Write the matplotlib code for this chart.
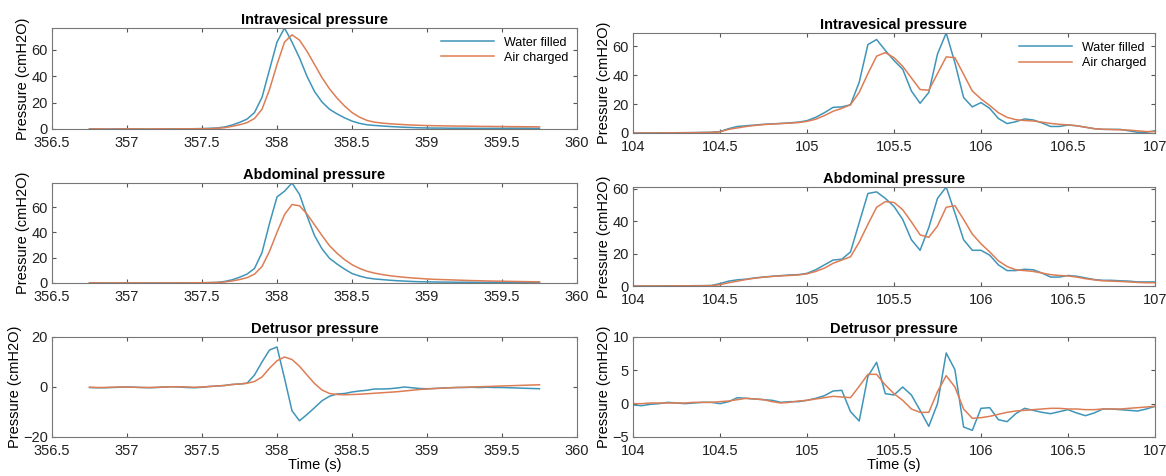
import numpy as np
import matplotlib.pyplot as plt

plt.rcParams['font.family'] = ['Liberation Sans', 'DejaVu Sans']

# sampling grid (20 Hz)
n_pts = 61
dt = 0.05
t0_left = 356.75
t0_right = 104.0

# left column (water filled vs air charged, run 1)
ves_water_l = [0.1, 0.0, -0.1, 0.0, 0.1, 0.2, 0.1, 0.0, -0.1, 0.0, 0.1, 0.1, 0.0, 0.1, 0.2, 0.3, 0.5,
               0.8, 1.5, 3.0, 5.0, 7.5, 12.5, 24.0, 45.0, 66.0, 76.7, 66.0, 54.0, 40.0, 28.5, 20.5,
               15.0, 11.5, 8.5, 6.0, 4.3, 3.2, 2.7, 2.3, 1.9, 1.6, 1.3, 1.1, 0.9, 0.8,
               0.7, 0.7, 0.6, 0.6, 0.6, 0.5, 0.5, 0.5, 0.5, 0.5, 0.6, 0.6, 0.6, 0.5, 0.5]
ves_air_l = [0.0, 0.1, 0.0, -0.1, 0.0, 0.1, 0.1, 0.0, 0.0, 0.1, 0.1, 0.0, 0.1, 0.1, 0.2, 0.2, 0.3,
             0.5, 1.0, 2.0, 3.2, 4.8, 8.0, 15.0, 30.0, 49.0, 66.0, 71.5, 67.5, 59.0, 49.0, 39.0,
             30.5, 23.5, 17.5, 12.5, 9.0, 6.5, 5.2, 4.5, 4.0, 3.6, 3.3, 3.0, 2.8, 2.6,
             2.5, 2.4, 2.3, 2.2, 2.2, 2.1, 2.0, 2.0, 1.9, 1.9, 1.8, 1.8, 1.7, 1.7, 1.6]
abd_water_l = [0.2, 0.1, 0.1, 0.0, 0.1, 0.1, 0.0, 0.0, 0.1, 0.0, 0.0, 0.1, 0.1, 0.1, 0.2, 0.2, 0.3,
               0.5, 1.2, 2.5, 4.5, 7.0, 11.5, 24.0, 47.0, 68.0, 72.5, 79.0, 70.0, 53.0, 37.5, 27.0,
               19.5, 15.0, 11.0, 7.5, 5.5, 4.0, 3.2, 2.7, 2.2, 1.8, 1.5, 1.2, 1.0, 0.9,
               0.8, 0.7, 0.7, 0.6, 0.6, 0.6, 0.5, 0.5, 0.5, 0.5, 0.5, 0.5, 0.5, 0.5, 0.5]
abd_air_l = [0.1, 0.1, 0.0, 0.0, 0.1, 0.1, 0.1, 0.0, 0.0, 0.0, 0.1, 0.1, 0.1, 0.1, 0.2, 0.2, 0.3,
             0.4, 0.8, 1.6, 2.7, 4.2, 7.0, 13.0, 25.0, 40.0, 54.0, 62.0, 61.0, 54.5, 46.0, 37.5,
             29.5, 23.5, 18.5, 14.5, 11.5, 9.3, 7.8, 6.7, 5.8, 5.1, 4.5, 4.0, 3.6, 3.2,
             2.9, 2.7, 2.5, 2.3, 2.1, 1.9, 1.8, 1.6, 1.5, 1.4, 1.3, 1.2, 1.1, 1.0, 0.9]
det_water_l = [-0.2, -0.3, -0.3, -0.2, -0.1, 0.0, -0.1, -0.2, -0.3, -0.2, 0.0, 0.1, 0.0, -0.2, -0.3, -0.1, 0.2,
               0.4, 0.6, 1.0, 1.2, 1.5, 4.8, 10.0, 14.8, 16.0, 3.5, -9.5, -13.5, -11.0, -8.3, -5.5,
               -3.7, -2.8, -2.6, -2.0, -1.6, -1.3, -0.8, -0.8, -0.7, -0.4, 0.0, -0.3, -0.6, -0.7,
               -0.6, -0.4, -0.3, -0.2, -0.2, -0.1, -0.2, -0.1, -0.2, -0.2, -0.3, -0.4, -0.5, -0.6, -0.7]
det_air_l = [-0.1, -0.2, -0.2, -0.1, 0.0, 0.0, -0.1, -0.2, -0.2, -0.1, 0.0, 0.1, 0.1, 0.0, -0.1, 0.0, 0.2,
             0.4, 0.6, 1.0, 1.2, 1.5, 2.2, 4.0, 7.5, 10.5, 12.0, 11.0, 8.3, 4.8, 1.4, -1.2,
             -2.6, -3.0, -3.1, -3.0, -2.9, -2.7, -2.5, -2.3, -2.1, -1.9, -1.6, -1.3, -1.0, -0.8,
             -0.6, -0.5, -0.3, -0.2, -0.1, 0.0, 0.1, 0.2, 0.3, 0.4, 0.5, 0.6, 0.7, 0.8, 0.9]

# right column (run 2)
ves_water_r = [0.0, 0.0, 0.0, 0.1, 0.1, 0.2, 0.2, 0.3, 0.4, 0.5,
               1.0, 3.0, 4.5, 5.0, 5.5, 6.0, 6.3, 6.6, 7.0, 7.5,
               8.5, 10.8, 14.0, 17.7, 18.0, 19.5, 35.0, 61.0, 64.5, 57.0,
               50.0, 44.0, 29.0, 20.5, 28.0, 54.5, 69.0, 48.5, 24.5, 18.0,
               21.0, 17.0, 10.0, 6.5, 7.8, 9.7, 9.0, 7.0, 4.5, 4.5,
               5.5, 5.0, 4.0, 3.0, 2.5, 2.5, 2.5, 1.5, 0.5, 0.5, 1.5]
ves_air_r = [0.0, 0.0, 0.0, 0.0, 0.1, 0.1, 0.2, 0.2, 0.3, 0.4,
             0.8, 2.5, 3.5, 4.5, 5.2, 5.8, 6.2, 6.5, 6.8, 7.2,
             8.0, 9.5, 12.0, 15.0, 17.0, 19.5, 28.0, 41.0, 53.0, 55.5,
             52.0, 46.0, 38.0, 30.0, 29.5, 41.0, 52.5, 52.0, 40.5, 29.0,
             23.5, 19.0, 14.0, 10.8, 9.2, 8.6, 8.3, 7.5, 6.6, 6.0,
             5.6, 5.0, 4.0, 3.0, 2.6, 2.4, 2.2, 2.0, 1.5, 1.0, 1.0]
abd_water_r = [0.0, 0.0, 0.0, 0.0, 0.1, 0.1, 0.1, 0.2, 0.2, 0.3,
               1.5, 3.0, 3.8, 4.2, 5.0, 5.5, 6.0, 6.4, 6.8, 7.0,
               7.8, 10.0, 13.0, 16.0, 16.5, 21.0, 39.0, 57.0, 58.0, 54.0,
               49.0, 41.0, 28.5, 22.0, 36.0, 54.0, 61.0, 45.0, 28.5, 22.0,
               22.0, 19.0, 13.0, 9.5, 9.5, 10.3, 10.0, 8.0, 5.5, 5.5,
               6.5, 6.0, 5.0, 4.0, 3.5, 3.5, 3.2, 3.0, 2.5, 2.5, 2.5]
abd_air_r = [0.0, 0.0, 0.0, 0.0, 0.0, 0.1, 0.1, 0.1, 0.2, 0.2,
             0.8, 2.0, 3.0, 4.0, 4.8, 5.4, 5.9, 6.2, 6.5, 6.8,
             7.5, 9.0, 11.0, 14.0, 16.0, 18.0, 27.0, 38.0, 48.5, 52.0,
             51.5, 47.0, 39.5, 31.5, 30.0, 37.0, 48.5, 49.5, 41.0, 32.0,
             26.0, 21.0, 15.5, 12.0, 10.0, 9.5, 9.0, 8.0, 7.0, 6.5,
             6.2, 5.5, 4.5, 3.8, 3.2, 3.0, 2.8, 2.5, 2.2, 2.0, 2.0]
det_water_r = [-0.2, -0.3, -0.1, 0.0, 0.2, 0.1, 0.0, 0.1, 0.2, 0.2,
               0.0, 0.3, 0.9, 0.8, 0.7, 0.6, 0.5, 0.2, 0.3, 0.3,
               0.5, 0.8, 1.2, 1.9, 2.0, -1.2, -2.6, 4.1, 6.2, 1.5,
               1.3, 2.5, 1.3, -1.0, -3.4, 0.0, 7.6, 5.1, -3.5, -4.0,
               -0.7, -0.6, -2.4, -2.7, -1.5, -0.7, -1.0, -1.3, -1.5, -1.2,
               -0.9, -1.4, -1.8, -1.4, -0.8, -0.8, -0.9, -1.0, -1.1, -0.8, -0.4]
det_air_r = [0.0, 0.0, 0.1, 0.1, 0.1, 0.1, 0.1, 0.2, 0.2, 0.2,
             0.3, 0.4, 0.6, 0.8, 0.7, 0.6, 0.3, 0.1, 0.2, 0.4,
             0.5, 0.7, 0.9, 1.1, 1.0, 0.9, 2.6, 4.4, 4.4, 2.8,
             1.5, 0.5, -0.8, -1.3, -1.3, 1.8, 4.2, 2.5, -0.8, -2.2,
             -2.1, -1.9, -1.6, -1.3, -1.1, -1.0, -0.9, -0.8, -0.7, -0.7,
             -0.8, -0.8, -0.9, -0.9, -0.8, -0.8, -0.8, -0.7, -0.6, -0.5, -0.4]

titles = ["Intravesical pressure", "Abdominal pressure", "Detrusor pressure"]
labels = ["Water filled", "Air charged"]
c_water = "#3f95b9"
c_air = "#dd7d55"

W, H = 1166, 476
fig = plt.figure(figsize=(W / 100, H / 100), dpi=100)


def box(x0, x1, ytop, ybot):
    return [x0 / W, 1 - ybot / H, (x1 - x0) / W, (ybot - ytop) / H]


t_left = np.round(t0_left + dt * np.arange(n_pts), 2)
t_right = np.round(t0_right + dt * np.arange(n_pts), 2)

panels = [
    # (box, t, water, air, xlim, ylim, yticks)
    (box(52, 577, 28, 129), t_left, ves_water_l, ves_air_l, (356.5, 360), (0, 76.7), [0, 20, 40, 60]),
    (box(633, 1155, 33, 133), t_right, ves_water_r, ves_air_r, (104, 107), (0, 69), [0, 20, 40, 60]),
    (box(52, 577, 183, 283), t_left, abd_water_l, abd_air_l, (356.5, 360), (0, 79), [0, 20, 40, 60]),
    (box(633, 1155, 187, 286), t_right, abd_water_r, abd_air_r, (104, 107), (0, 61), [0, 20, 40, 60]),
    (box(52, 577, 337, 437), t_left, det_water_l, det_air_l, (356.5, 360), (-20, 20), [-20, 0, 20]),
    (box(633, 1155, 337, 437), t_right, det_water_r, det_air_r, (104, 107), (-5, 10), [-5, 0, 5, 10]),
]

for k, (pos, t, yw, ya, xl, yl, yt) in enumerate(panels):
    ax = fig.add_axes(pos)
    ax.plot(t, yw, color=c_water, lw=1.1, label=labels[0])
    ax.plot(t, ya, color=c_air, lw=1.1, label=labels[1])
    ax.set_xlim(*xl)
    ax.set_ylim(*yl)
    ax.set_yticks(yt)
    xt = np.arange(xl[0], xl[1] + 0.01, 0.5)
    ax.set_xticks(xt)
    ax.set_xticklabels(["%g" % v for v in xt])
    ax.set_title(titles[k // 2], fontsize=10.5, fontweight="bold", pad=3)
    ax.set_ylabel("Pressure (cmH2O)", fontsize=10.5, labelpad=1)
    ax.tick_params(direction="in", top=True, right=True, labelsize=10.5, length=3,
                   color="#555555", labelcolor="#222222")
    ax.tick_params(axis="x", pad=5)
    ax.tick_params(axis="y", pad=3)
    for s in ax.spines.values():
        s.set_color("#777777")
        s.set_linewidth(0.8)
    if k < 2:
        ax.legend(loc="upper right", frameon=False, fontsize=9, handlelength=4.2,
                  borderaxespad=0.3, labelspacing=0.25)
    if k >= 4:
        ax.set_xlabel("Time (s)", fontsize=10.5, labelpad=0)

fig.savefig("out.png", dpi=100)
